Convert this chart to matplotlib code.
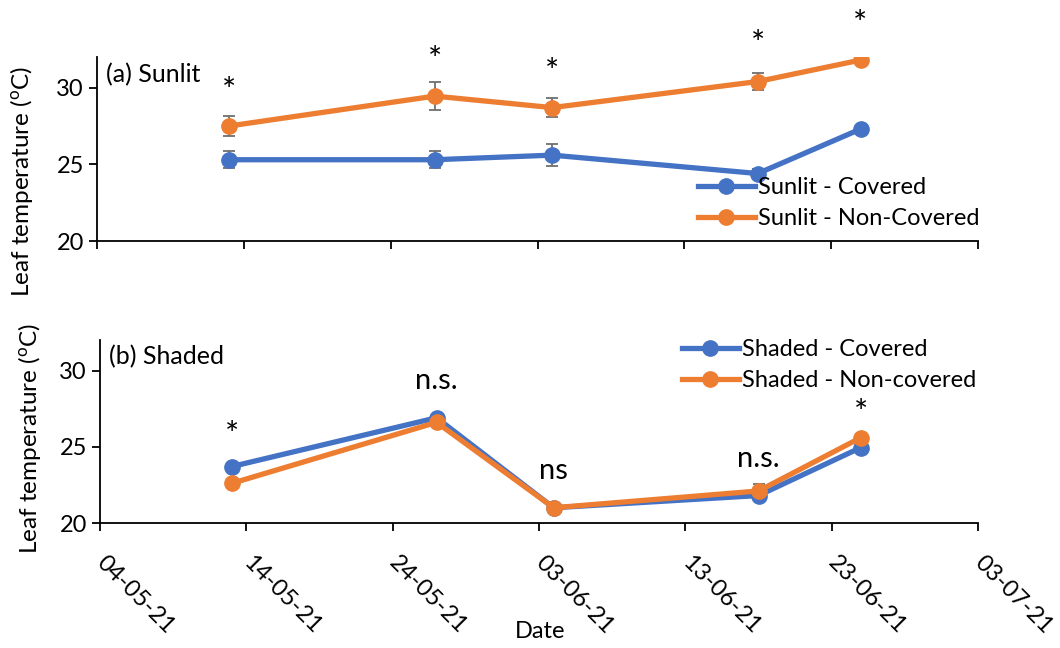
import numpy as np
import pandas as pd
import matplotlib
matplotlib.use('agg')
from matplotlib import pyplot as plt
import matplotlib.dates as mdates

plt.rcParams['font.family'] = ['Lato', 'DejaVu Sans']
plt.rcParams['mathtext.fontset'] = 'custom'
plt.rcParams['mathtext.rm'] = 'Lato'

dates = pd.to_datetime(["2021-05-13", "2021-05-27", "2021-06-04", "2021-06-18", "2021-06-25"])
sun_cov = [25.3, 25.3, 25.6, 24.4, 27.3]
sun_cov_err = [0.55, 0.55, 0.72, 0.3, 0.1]
sun_non = [27.5, 29.45, 28.7, 30.4, 31.8]
sun_non_err = [0.65, 0.9, 0.62, 0.55, 0.1]
sha_cov = [23.7, 26.9, 21.0, 21.8, 24.95]
sha_cov_err = [0.1, 0.1, 0.1, 0.1, 0.1]
sha_non = [22.6, 26.6, 21.0, 22.1, 25.6]
sha_non_err = [0.1, 0.1, 0.1, 0.45, 0.1]
sun_sig = ["*", "*", "*", "*", "*"]
sun_sig_y = [29.7, 31.75, 30.95, 32.8, 34.1]
sha_sig = ["*", "n.s.", "ns", "n.s.", "*"]
sha_sig_y = [25.7, 29.3, 23.4, 24.2, 27.15]

blue = '#4472C4'
orange = '#ED7D31'
W, H = 1060, 648
fig = plt.figure(figsize=(10.6, 6.48), dpi=100)
ax1 = fig.add_axes([97/W, 1-241/H, 881/W, 184/H])
ax2 = fig.add_axes([100/W, 1-523/H, 878/W, 183/H])

tick_dates = pd.date_range("2021-05-04", "2021-07-03", freq="10D")

def style(ax):
    ax.set_xlim(pd.Timestamp("2021-05-04"), pd.Timestamp("2021-07-03"))
    ax.set_ylim(20, 32)
    ax.set_yticks([20, 25, 30])
    ax.set_xticks(tick_dates)
    for s in ['top', 'right']:
        ax.spines[s].set_visible(False)
    for s in ['left', 'bottom']:
        ax.spines[s].set_linewidth(1.3)
    ax.tick_params(direction='out', length=6, width=1.3, labelsize=17)

def series(ax, y, e, c, lab):
    ax.plot(dates, y, '-o', color=c, lw=3.8, ms=11, label=lab, zorder=3)
    ax.errorbar(dates, y, yerr=e, fmt='none', ecolor='#6f6f6f', elinewidth=1.3,
                capsize=4.5, capthick=1.3, zorder=2)

style(ax1)
series(ax1, sun_cov, sun_cov_err, blue, 'Sunlit - Covered')
series(ax1, sun_non, sun_non_err, orange, 'Sunlit - Non-Covered')
ax1.set_xticklabels([])
for d, s, y in zip(dates, sun_sig, sun_sig_y):
    ax1.text(d, y, s, ha='center', va='center', fontsize=24, clip_on=False)
ax1.text(0.01, 0.97, '(a) Sunlit', transform=ax1.transAxes, fontsize=18, va='top')
ax1.legend(loc='upper left', bbox_to_anchor=(698/W, 1-177/H), bbox_transform=fig.transFigure,
           frameon=False, fontsize=17, handlelength=2.4, handletextpad=0.15,
           labelspacing=0.43, borderpad=0, borderaxespad=0)

style(ax2)
series(ax2, sha_cov, sha_cov_err, blue, 'Shaded - Covered')
series(ax2, sha_non, sha_non_err, orange, 'Shaded - Non-covered')
ax2.xaxis.set_major_formatter(mdates.DateFormatter('%d-%m-%y'))
ax2.tick_params(axis='x', pad=20, labelsize=17)
plt.setp(ax2.get_xticklabels(), rotation=-45, ha='left', va='center', rotation_mode='anchor')
for d, s, y in zip(dates, sha_sig, sha_sig_y):
    ax2.text(d, y, s, ha='center', va='center', fontsize=21 if s != "*" else 24, clip_on=False)
ax2.text(0.01, 0.97, '(b) Shaded', transform=ax2.transAxes, fontsize=18, va='top')
ax2.legend(loc='upper left', bbox_to_anchor=(682/W, 1-339/H), bbox_transform=fig.transFigure,
           frameon=False, fontsize=17, handlelength=2.4, handletextpad=0.15,
           labelspacing=0.43, borderpad=0, borderaxespad=0)

ylab = 'Leaf temperature ($\\mathrm{^{o}}$C)'
fig.text(22/W, 1-181/H, ylab, rotation=90, ha='center', va='center', fontsize=17.5)
fig.text(30/W, 1-438/H, ylab, rotation=90, ha='center', va='center', fontsize=17.5)
fig.text(540/W, 1-632/H, 'Date', ha='center', va='center', fontsize=17)

fig.savefig('out.png', dpi=100)
